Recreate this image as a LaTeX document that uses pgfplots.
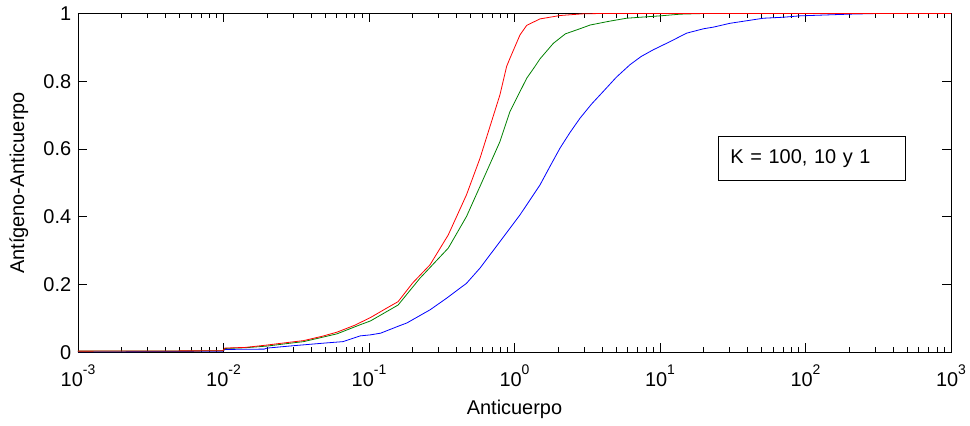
\documentclass[border=0pt]{standalone}
\usepackage{pgfplots}
\pgfplotsset{compat=1.18}
\usepackage{fontspec}
\setmainfont{Liberation Sans}
\definecolor{mred}{RGB}{255,0,0}
\definecolor{mgreen}{RGB}{0,128,0}
\definecolor{mblue}{RGB}{0,0,255}
\newcommand{\tp}[1]{10\raisebox{12bp}{\fontsize{14}{16}\selectfont #1}}
\begin{document}
\fontsize{20}{24}\selectfont
\begin{tikzpicture}
\begin{axis}[
  xmode=log, scale only axis, width=873bp, height=339bp,
  xmin=1e-3, xmax=1e3, ymin=0, ymax=1,
  xtick={1e-3,1e-2,1e-1,1,10,100,1000},
  xticklabels={\tp{-3},\tp{-2},\tp{-1},\tp{0},\tp{1},\tp{2},\tp{3}},
  ytick={0,0.2,0.4,0.6,0.8,1},
  yticklabels={0,0.2,0.4,0.6,0.8,1},
  tick align=inside, major tick length=9bp, minor tick length=5bp,
  axis line style={line width=0.9bp},
  every tick/.style={black, line width=0.8bp},
  xlabel={Anticuerpo}, ylabel={Antígeno-Anticuerpo},
  xlabel style={at={(axis description cs:0.5,-0.168)},anchor=center},
  ylabel style={at={(axis description cs:-0.0676,0.5)},anchor=center},
  xticklabel style={yshift=-5.3bp, inner xsep=1bp},
  every axis plot/.append style={line width=0.8bp},
]
\addplot[mblue] coordinates {
(0.001,0.002) (0.004786,0.003) (0.00989,0.004) (0.01023,0.009) (0.01905,0.010)
(0.01995,0.013) (0.0302,0.020) (0.0501,0.028) (0.0661,0.032) (0.0871,0.049)
(0.1023,0.052) (0.1202,0.057) (0.1622,0.079) (0.1820,0.087) (0.2630,0.126)
(0.3412,0.160) (0.4677,0.204) (0.5794,0.249) (0.7943,0.327) (1.0914,0.406)
(1.4962,0.494) (1.7539,0.549) (2.0559,0.603) (2.3988,0.648) (2.8184,0.691)
(3.3884,0.733) (4.0738,0.770) (5.0119,0.812) (6.2230,0.849) (7.4131,0.873)
(8.9950,0.893) (11.722,0.917) (15.24,0.942) (19.95,0.955) (23.44,0.960)
(30.2,0.971) (51.29,0.986) (70.79,0.989) (91.2,0.993) (199.5,0.998)
(316.2,1) (1000,1)};
\addplot[mgreen] coordinates {
(0.001,0.004) (0.00989,0.005) (0.01023,0.012) (0.01413,0.014) (0.01995,0.019)
(0.02818,0.027) (0.03548,0.032) (0.04786,0.045) (0.06026,0.055) (0.0871,0.082)
(0.1023,0.093) (0.1585,0.140) (0.2239,0.219) (0.3508,0.308) (0.4677,0.401)
(0.5794,0.490) (0.7943,0.622) (0.9311,0.711) (1.2134,0.809) (1.3836,0.844)
(1.4962,0.866) (1.8493,0.912) (2.2387,0.940) (2.8184,0.955) (3.3113,0.966)
(4.4668,0.977) (5.8884,0.986) (7.9433,0.990) (10,0.993) (13.8,0.998)
(19.95,1) (1000,1)};
\addplot[mred] coordinates {
(0.001,0.004) (0.00989,0.005) (0.01023,0.013) (0.01413,0.015) (0.01995,0.022)
(0.02818,0.030) (0.03548,0.035) (0.04786,0.048) (0.06026,0.060) (0.07943,0.080)
(0.1023,0.103) (0.1349,0.133) (0.1585,0.150) (0.1995,0.205) (0.2630,0.259)
(0.3508,0.347) (0.4677,0.465) (0.5794,0.573) (0.7943,0.760) (0.8831,0.844)
(0.9311,0.868) (1.0914,0.937) (1.2134,0.965) (1.4962,0.984) (2.0559,0.994)
(2.951,0.999) (3.981,1) (1000,1)};
\node[draw, line width=0.8bp, text width=163.6bp, inner xsep=11.7bp, inner ysep=0pt,
      minimum height=44bp, align=left, anchor=center]
  at (rel axis cs:0.841,0.572) {K = 100, 10 y 1};
\coordinate (ll) at (rel axis cs:0,0);
\coordinate (ur) at (rel axis cs:1,1);
\end{axis}
\path ([shift={(-78bp,-67bp)}]ll) rectangle ([shift={(19bp,12bp)}]ur);
\end{tikzpicture}
\end{document}
